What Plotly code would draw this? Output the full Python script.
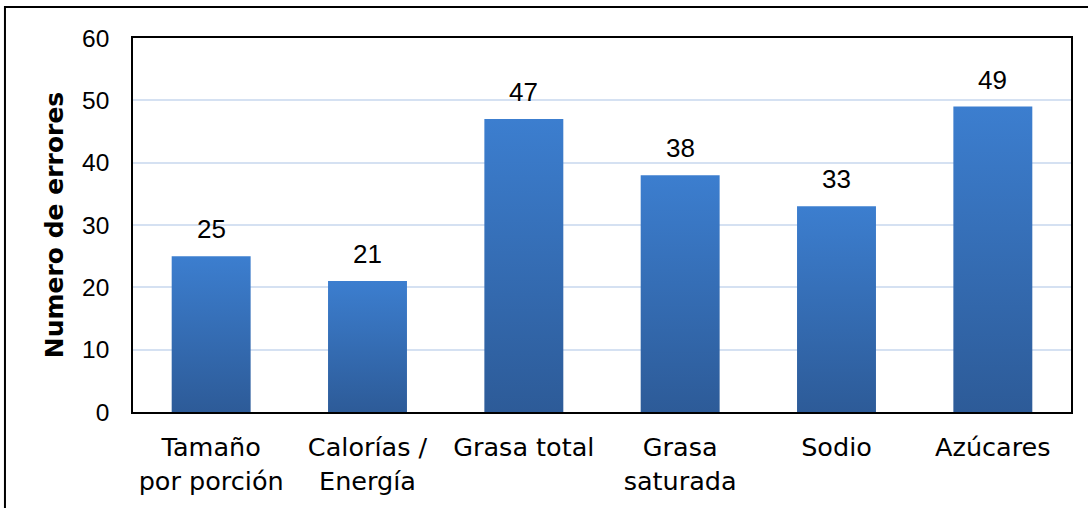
import plotly.graph_objects as go

categories = ["Tamaño<br>por porción", "Calorías /<br>Energía", "Grasa total",
              "Grasa<br>saturada", "Sodio", "Azúcares"]
values = [25, 21, 47, 38, 33, 49]
y_ticks = [0, 10, 20, 30, 40, 50, 60]

half_w = 0.2525
fig = go.Figure()
for i, v in enumerate(values):
    fig.add_trace(go.Scatter(
        x=[i - half_w, i + half_w, i + half_w, i - half_w, i - half_w],
        y=[0, 0, v, v, 0],
        mode="lines", fill="toself", line=dict(width=0),
        fillgradient=dict(type="vertical",
                          colorscale=[[0, "#2d5b98"], [1, "#3c7ecf"]]),
        hoverinfo="skip", showlegend=False))

for i, v in enumerate(values):
    fig.add_annotation(x=i, y=v, text=str(v), showarrow=False,
                       xanchor="center", yanchor="middle", yshift=27,
                       font=dict(family="Liberation Sans, Arial", size=26,
                                 color="#000000"))

fig.update_layout(
    width=1088, height=508,
    margin=dict(l=133, r=17, t=38, b=96),
    paper_bgcolor="white", plot_bgcolor="white",
    font=dict(family="Liberation Sans, Arial", size=24, color="#000000"),
    xaxis=dict(range=[-0.5, 5.5], tickmode="array",
               tickvals=list(range(len(categories))), ticktext=categories,
               showgrid=False, zeroline=False, showline=True, mirror=True,
               linecolor="#000000", linewidth=1.5, ticks="",
               ticklabelstandoff=12,
               tickfont=dict(family="DejaVu Sans", size=25.5)),
    yaxis=dict(range=[0, 60], tickmode="array", tickvals=y_ticks,
               showgrid=True, gridcolor="#d5e1f2", gridwidth=1.5,
               zeroline=False, showline=True, mirror=True,
               linecolor="#000000", linewidth=1.5, ticks="",
               ticklabelstandoff=17,
               tickfont=dict(family="Liberation Sans, Arial", size=24.5),
               title=dict(text="<b>Numero de errores</b>", standoff=11,
                          font=dict(family="DejaVu Sans", size=25))),
    shapes=[dict(type="rect", xref="paper", yref="paper",
                 x0=-0.1365, x1=1.03, y0=-0.27, y1=1.0829,
                 line=dict(color="#000000", width=2), fillcolor="rgba(0,0,0,0)")],
)

fig.write_html("out.html")
